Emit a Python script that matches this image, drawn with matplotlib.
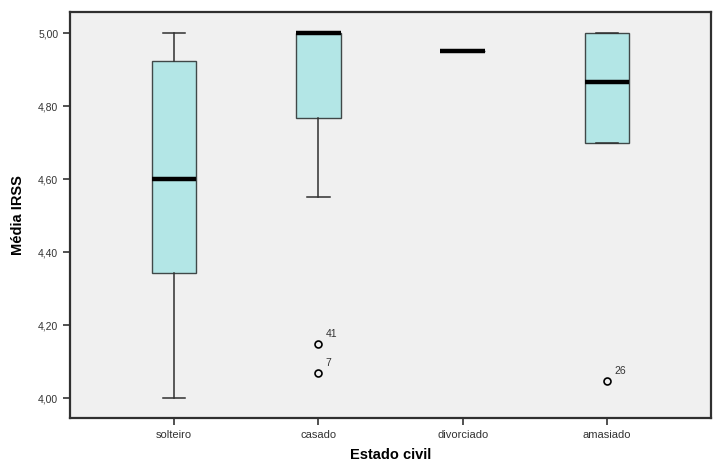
import matplotlib.pyplot as plt
from matplotlib.ticker import FuncFormatter

plt.rcParams["font.family"] = ["Liberation Sans", "DejaVu Sans"]

categories = ["solteiro", "casado", "divorciado", "amasiado"]
whis_lo = [4.00, 4.55, 4.95, 4.70]
q1 = [4.342, 4.767, 4.95, 4.70]
medians = [4.60, 5.00, 4.95, 4.867]
q3 = [4.923, 5.00, 4.95, 5.00]
whis_hi = [5.00, 5.00, 4.95, 5.00]
outliers = [[], [4.149, 4.068], [], [4.048]]
outlier_ids = [[], ["41", "7"], [], ["26"]]

stats = []
for i, cat in enumerate(categories):
    stats.append(dict(label=cat, whislo=whis_lo[i], q1=q1[i], med=medians[i],
                      q3=q3[i], whishi=whis_hi[i], fliers=outliers[i]))

fig = plt.figure(figsize=(7.19, 4.65), dpi=100)
ax = fig.add_axes([0.0974, 0.1011, 0.8915, 0.8724])
ax.set_facecolor("#f0f0f0")

positions = list(range(1, len(categories) + 1))
ax.bxp(stats, positions=positions, widths=0.31, patch_artist=True,
       boxprops=dict(facecolor="#b3e6e6", edgecolor="#404848", linewidth=1.0),
       medianprops=dict(color="black", linewidth=3.2, solid_capstyle="butt"),
       whiskerprops=dict(color="#303030", linewidth=1.1),
       capprops=dict(color="#303030", linewidth=1.1),
       flierprops=dict(marker="o", markersize=5, markerfacecolor="none",
                       markeredgecolor="black", markeredgewidth=1.2),
       capwidths=0.155)

for pos, vals, ids in zip(positions, outliers, outlier_ids):
    for v, lab in zip(vals, ids):
        ax.annotate(lab, (pos, v), xytext=(5, 5), textcoords="offset points",
                    fontsize=7.5, color="#333333")

ax.set_xlim(0.28, 4.72)
ax.set_ylim(3.946, 5.057)
ax.set_yticks([4.0, 4.2, 4.4, 4.6, 4.8, 5.0])
ax.yaxis.set_major_formatter(FuncFormatter(lambda v, p: f"{v:.2f}".replace(".", ",")))
ax.tick_params(axis="both", labelcolor="#333333", color="#333333",
               length=5, width=1.2)
ax.tick_params(axis="y", labelsize=7.5)
ax.tick_params(axis="x", labelsize=8)

for s in ax.spines.values():
    s.set_linewidth(1.6)
    s.set_color("#303030")

ax.set_xlabel("Estado civil", fontsize=10.5, fontweight="bold", labelpad=6)
ax.set_ylabel("Média IRSS", fontsize=10.5, fontweight="bold",
              family=["Liberation Sans Narrow", "Liberation Sans"])
ax.yaxis.set_label_coords(-0.07, 0.5)

fig.savefig("out.png", dpi=100)
